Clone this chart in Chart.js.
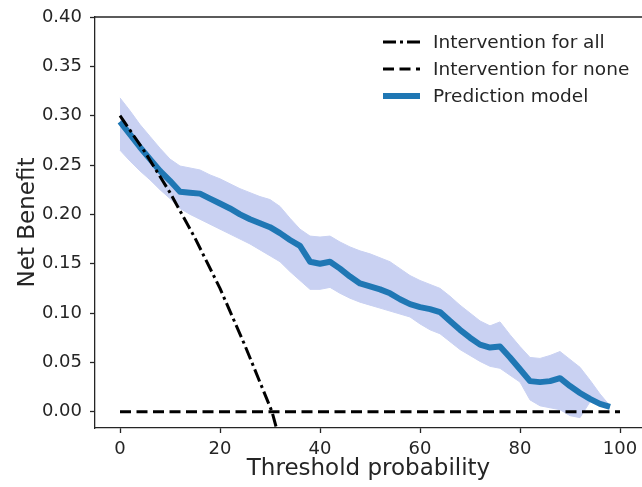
<!DOCTYPE html>
<html>
<head>
<meta charset="utf-8">
<title>Decision curve</title>
<script src="https://cdn.jsdelivr.net/npm/chart.js@4.4.0/dist/chart.umd.min.js"></script>
<style>
  html, body { margin: 0; padding: 0; background: #fff; overflow: hidden; }
</style>
</head>
<body>
<canvas id="dcaChart" width="642" height="487"></canvas>
<script>
// threshold probability (%) and net benefit of the model with its band
const thresholds = [0, 2, 4, 6, 8, 10, 12, 14, 16, 18, 20, 22, 24, 26, 28, 30, 32, 34, 36, 38,
  40, 42, 44, 46, 48, 50, 52, 54, 56, 58, 60, 62, 64, 66, 68, 70, 72, 74, 76, 78,
  80, 82, 84, 86, 88, 90, 92, 94, 96, 98];
const modelNetBenefit = [0.294, 0.281, 0.268, 0.256, 0.244, 0.234, 0.223, 0.222, 0.221, 0.216,
  0.211, 0.206, 0.200, 0.195, 0.191, 0.187, 0.181, 0.174, 0.168, 0.152,
  0.150, 0.152, 0.145, 0.137, 0.130, 0.127, 0.124, 0.120, 0.114, 0.109,
  0.106, 0.104, 0.101, 0.092, 0.083, 0.075, 0.068, 0.065, 0.066, 0.055,
  0.043, 0.031, 0.030, 0.031, 0.034, 0.026, 0.019, 0.013, 0.008, 0.005];
const modelUpper = [0.318, 0.305, 0.291, 0.279, 0.267, 0.256, 0.249, 0.247, 0.245, 0.240,
  0.236, 0.231, 0.226, 0.222, 0.218, 0.215, 0.208, 0.196, 0.185, 0.178,
  0.177, 0.178, 0.172, 0.167, 0.163, 0.160, 0.156, 0.152, 0.145, 0.138,
  0.133, 0.129, 0.125, 0.117, 0.108, 0.100, 0.092, 0.087, 0.091, 0.078,
  0.066, 0.055, 0.054, 0.057, 0.061, 0.053, 0.045, 0.032, 0.018, 0.006];
const modelLower = [0.265, 0.254, 0.244, 0.235, 0.225, 0.216, 0.206, 0.200, 0.195, 0.190,
  0.185, 0.180, 0.175, 0.170, 0.164, 0.158, 0.152, 0.142, 0.133, 0.124,
  0.124, 0.126, 0.120, 0.115, 0.111, 0.108, 0.105, 0.102, 0.099, 0.096,
  0.089, 0.083, 0.079, 0.071, 0.063, 0.057, 0.051, 0.046, 0.044, 0.037,
  0.030, 0.012, 0.006, 0.004, 0.002, -0.004, -0.006, 0.010, 0.006, 0.004];

// reference strategies
const treatAllX = [0, 5, 10, 15, 20, 25, 30.4, 32];
const treatAllNetBenefit = [0.300, 0.263, 0.222, 0.176, 0.125, 0.067, 0.0, -0.03];
const treatNoneX = [0, 100];
const treatNoneNetBenefit = [0, 0];

const xTicks = [0, 20, 40, 60, 80, 100];
const yTicks = [0, 0.05, 0.10, 0.15, 0.20, 0.25, 0.30, 0.35, 0.40];

const FONT = "'DejaVu Sans', sans-serif";
const INK = '#252525';
const BAND = 'rgb(201, 209, 242)';

const toPoints = (xs, ys) => xs.map((x, i) => ({ x, y: ys[i] }));

// draws the top spine and a frameless legend inside the plot
const frameAndLegend = {
  id: 'frameAndLegend',
  afterDatasetsDraw(chart) {
    const { ctx, chartArea } = chart;
    ctx.save();
    ctx.strokeStyle = INK;
    ctx.lineWidth = 1.3;
    ctx.beginPath();
    ctx.moveTo(chartArea.left, chartArea.top);
    ctx.lineTo(chartArea.right, chartArea.top);
    ctx.stroke();

    const items = chart.data.datasets.filter(ds => ds.inLegend);
    ctx.font = '18.5px ' + FONT;
    ctx.textBaseline = 'middle';
    ctx.fillStyle = INK;
    items.forEach((ds, i) => {
      const y = 42 + i * 27;
      ctx.strokeStyle = ds.borderColor;
      ctx.lineWidth = ds.borderWidth;
      ctx.setLineDash(ds.borderDash || []);
      ctx.beginPath();
      ctx.moveTo(383, y);
      ctx.lineTo(420, y);
      ctx.stroke();
      ctx.setLineDash([]);
      ctx.fillText(ds.label, 433, y + 1);
    });
    ctx.restore();
  }
};

new Chart(document.getElementById('dcaChart'), {
  type: 'line',
  data: {
    datasets: [
      {
        label: 'Intervention for all',
        data: toPoints(treatAllX, treatAllNetBenefit),
        borderColor: '#000',
        borderWidth: 3,
        borderDash: [13, 4, 3, 4],
        inLegend: true,
        order: 0
      },
      {
        label: 'Intervention for none',
        data: toPoints(treatNoneX, treatNoneNetBenefit),
        borderColor: '#000',
        borderWidth: 3,
        borderDash: [11, 5.5],
        inLegend: true,
        order: 1
      },
      {
        label: 'Prediction model',
        data: toPoints(thresholds, modelNetBenefit),
        borderColor: 'rgb(31, 119, 180)',
        borderWidth: 6,
        inLegend: true,
        order: 2
      },
      {
        label: 'upper',
        data: toPoints(thresholds, modelUpper),
        borderColor: BAND,
        backgroundColor: BAND,
        borderWidth: 1,
        fill: '+1',
        order: 3
      },
      {
        label: 'lower',
        data: toPoints(thresholds, modelLower),
        borderColor: BAND,
        borderWidth: 1,
        fill: false,
        order: 4
      }
    ]
  },
  options: {
    responsive: false,
    animation: false,
    events: [],
    elements: {
      point: { radius: 0 },
      line: { tension: 0, borderCapStyle: 'butt', borderJoinStyle: 'round' }
    },
    layout: { padding: { top: 17, right: 0, bottom: 0, left: 0 } },
    plugins: {
      legend: { display: false },
      tooltip: { enabled: false }
    },
    scales: {
      x: {
        type: 'linear',
        min: -5,
        max: 104.4,
        afterBuildTicks: axis => { axis.ticks = xTicks.map(v => ({ value: v })); },
        afterFit: axis => {
          axis.height = 59;
          axis.paddingLeft = 0;
          axis.paddingRight = 0;
        },
        ticks: { font: { family: FONT, size: 18 }, color: INK, padding: 6, autoSkip: false, maxRotation: 0 },
        grid: { drawOnChartArea: false, drawTicks: true, tickLength: 5, tickColor: INK, tickWidth: 1.3 },
        border: { display: true, color: INK, width: 1.3 },
        title: {
          display: true, text: 'Threshold probability', color: INK,
          font: { family: FONT, size: 23 }, padding: { top: 0, bottom: 4 }
        }
      },
      y: {
        min: -0.0165,
        max: 0.40,
        afterBuildTicks: axis => { axis.ticks = yTicks.map(v => ({ value: v })); },
        afterFit: axis => {
          axis.width = 95;
          axis.paddingTop = 0;
          axis.paddingBottom = 0;
        },
        ticks: {
          font: { family: FONT, size: 18 }, color: INK, padding: 8, autoSkip: false,
          callback: v => v.toFixed(2)
        },
        grid: { drawOnChartArea: false, drawTicks: true, tickLength: 5, tickColor: INK, tickWidth: 1.3 },
        border: { display: true, color: INK, width: 1.3 },
        title: {
          display: true, text: 'Net Benefit', color: INK,
          font: { family: FONT, size: 23 }, padding: { top: 14, bottom: 0 }
        }
      }
    }
  },
  plugins: [frameAndLegend]
});
</script>
</body>
</html>
